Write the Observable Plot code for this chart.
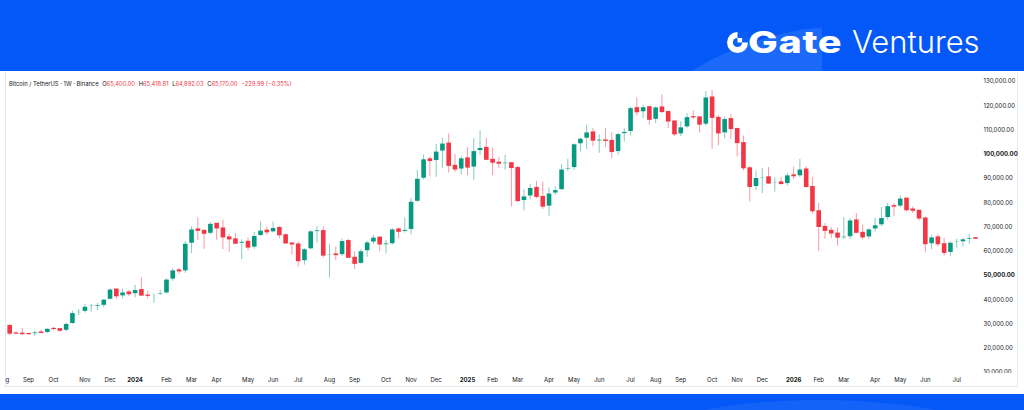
<!DOCTYPE html>
<html><head><meta charset="utf-8">
<script src="https://cdn.jsdelivr.net/npm/d3@7"></script>
<script src="https://cdn.jsdelivr.net/npm/@observablehq/plot@0.6"></script>
<style>
html,body{margin:0;padding:0;}
body{width:1024px;height:410px;overflow:hidden;position:relative;background:#0558F8;font-family:Inter,"Noto Sans",sans-serif;}
#glow{position:absolute;left:0;top:0;width:822px;height:71px;overflow:hidden}
#glow div{position:absolute;left:549px;top:26px;width:602px;height:602px;border-radius:50%;background:#1A69F9}
#glow2{position:absolute;left:0;top:394px;width:1024px;height:16px;overflow:hidden}
#glow2 div{position:absolute;left:610px;top:6px;width:420px;height:120px;border-radius:50%;background:#1463F8}
#panel{position:absolute;left:0;top:71px;width:1024px;height:323px;background:#fff}
#frame{position:absolute;left:5px;top:72px;width:1013px;height:315px;border-left:1px solid #E6E8EE;border-right:1px solid #E6E8EE;border-bottom:1px solid #E6E8EE;box-sizing:border-box}
#chart{position:absolute;left:0;top:72px}
#title{position:absolute;left:9px;top:80px;font-size:5.8px;line-height:8px;color:#131722;white-space:nowrap}
#title .v{color:#F23645}
#title .g{margin-left:2px}
#mask{position:absolute;left:977px;top:373px;width:40px;height:13px;background:#fff}
#maskL{position:absolute;left:0;top:374px;width:5px;height:13px;background:#fff}
#logo{position:absolute;left:0;top:0;color:#fff}
#gate{position:absolute;left:748px;top:22px;font-size:30px;font-weight:800;letter-spacing:0.5px;line-height:40px;transform:scaleX(1.32);transform-origin:0 50%}
#ventures{position:absolute;left:852px;top:22px;font-size:31px;font-weight:300;line-height:40px}
#icon{position:absolute;left:727px;top:32px}
</style>
</head><body>
<div id="glow"><div></div></div>
<div id="glow2"><div></div></div>
<div id="logo">
<svg id="icon" width="21" height="21" viewBox="0 0 21 21">
<circle cx="10.5" cy="10.5" r="10.5" fill="#fff"/>
<rect x="10.5" y="0" width="10.5" height="10.5" fill="#0A5EF8"/>
<circle cx="10.5" cy="10.5" r="4.6" fill="#0A5EF8"/>
<rect x="10.5" y="6" width="4.6" height="4.5" fill="#fff"/>
</svg>
<div id="gate">Gate</div>
<div id="ventures">Ventures</div>
</div>
<div id="panel"></div>
<div id="frame"></div>
<div id="title">Bitcoin / TetherUS · 1W · Binance <span class="g">O</span><span class="v">65,400.00</span> <span class="g">H</span><span class="v">65,418.81</span> <span class="g">L</span><span class="v">64,892.03</span> <span class="g">C</span><span class="v">65,170.00</span> <span class="v g">−229.99 (−0.35%)</span></div>
<div id="chart"></div>
<div id="mask"></div>
<div id="maskL"></div>
<script>
// Weekly BTC/USDT candles (thousands of USD), week of Mon 2023-08-14 … Mon 2026-07-27
const firstWeek = "2023-08-14";
const lastWeek = "2026-07-27";
const open = [
  29.2,26.1,26.0, 25.9,25.8,26.5,26.3, 28.0,27.9,27.2,30.0,34.5, 35.0,37.1,37.4,37.5, 40.0,44.2,41.4,43.0,
  42.3,44.0,41.7,41.6,42.0, 42.6,48.3,52.1,51.7, 63.1,69.0,68.4,67.2, 71.3,69.4,65.7,64.9,63.1, 63.9,61.5,66.3,68.5,
  67.8,69.6,66.6,63.2, 62.8,55.9,60.8,68.2,68.3, 58.2,58.7,58.4,64.2, 57.3,54.8,60.0,63.6,65.6, 62.8,62.9,69.0,68.0,
  68.8,80.4,89.9,97.9, 97.2,101.1,104.4,95.2,93.7,
  98.3,94.5,101.3,102.6, 97.7,96.5,96.1,96.3, 94.3,80.7,82.6,86.1,82.4, 78.4,83.8,85.2,93.7, 94.3,104.1,106.4,109.0,
  105.6,105.7,105.5,100.9,108.3, 109.2,119.0,117.3,119.4, 114.2,119.3,117.4,113.5, 108.2,111.1,115.3,115.2,112.2,
  123.4,115.0,108.6,114.5, 110.4,104.6,94.2,86.5, 90.2,90.5,87.9,88.4,87.7,
  91.3,90.9,93.7,86.5, 76.5,70.0,68.4,67.3, 65.6,65.8,72.7,67.6,65.7, 69.0,70.7,73.7,78.6, 78.4,81.7,77.2,76.7,
  73.5,62.9,65.7,62.9,59.3, 63.5,63.7,64.7,65.40
];
const high = [
  29.6,26.8,28.1, 26.1,27.0,27.5,28.1, 28.6,28.0,30.4,35.3,36.0, 38.0,38.0,38.4,40.2, 44.5,44.3,44.4,43.8,
  45.9,49.0,43.6,42.3,43.9, 48.6,52.8,53.0,64.0, 70.0,73.8,68.9,71.8, 71.3,72.8,66.9,67.2,64.7, 65.5,67.7,72.0,70.0,
  72.0,70.2,67.2,63.4, 63.8,61.0,68.4,70.1,70.0, 62.8,61.8,65.0,64.9, 59.8,60.7,64.1,66.5,66.0, 64.5,69.4,69.5,73.6,
  81.8,93.3,99.6,98.9, 104.1,106.6,108.4,99.9,98.9,
  102.7,106.4,109.6,106.5, 102.5,98.8,99.5,96.5, 95.0,85.3,87.5,88.8,88.5, 86.1,86.5,95.8,97.9, 104.3,106.7,112.0,110.5,
  108.0,110.5,108.9,108.5,110.5, 119.5,123.2,120.2,119.8, 119.5,124.5,117.6,113.8, 113.4,116.7,117.9,115.4,125.9,
  126.3,116.0,115.3,116.3, 110.8,107.5,95.0,93.0, 94.1,94.5,90.2,90.4,92.0,
  94.7,97.9,95.0,90.4, 79.7,71.4,69.8,69.6, 73.9,73.5,75.6,70.7,69.2, 73.7,78.0,79.7,79.7, 82.8,81.9,78.3,76.9,
  74.2,66.6,67.0,65.3,63.9, 64.9,65.3,66.9,65.42
];
const low = [
  25.2,25.8,25.3, 25.4,24.9,26.1,26.0, 27.2,26.5,26.8,29.9,33.4, 34.5,34.8,35.6,36.7, 39.9,40.2,40.5,41.3,
  40.8,41.5,40.3,38.5,41.8, 42.3,47.6,50.5,50.9, 59.0,64.5,60.8,66.8, 64.5,60.7,59.6,62.8,56.6, 60.2,60.8,66.1,66.6,
  67.6,65.1,63.0,58.4, 53.5,54.3,60.6,63.4,57.1, 49.0,56.1,57.8,57.2, 52.5,54.6,57.5,62.7,59.8, 58.9,62.4,65.1,67.5,
  66.8,80.2,89.4,90.8, 90.5,94.2,92.2,92.5,91.5,
  91.2,89.3,99.5,97.6, 91.2,94.1,93.4,78.3, 80.0,76.6,81.2,81.6,77.2, 74.5,83.0,85.1,92.8, 93.4,101.0,102.0,103.1,
  100.4,102.7,98.2,99.6,105.1, 107.5,115.7,114.7,112.0, 112.6,116.8,110.6,107.3, 107.3,110.7,114.4,108.7,111.5,
  102.0,103.5,106.4,106.1, 98.9,93.1,80.3,85.1, 83.8,87.5,84.4,87.4,86.9,
  89.5,90.4,86.0,75.3, 59.8,64.9,65.3,62.1, 64.8,64.9,67.2,64.6,64.9, 67.8,70.2,72.8,74.4, 78.0,76.3,75.6,72.5,
  59.3,60.7,61.8,58.0,57.7, 61.2,61.8,62.9,64.89
];
const close = [
  26.0,26.0,25.8, 25.8,26.5,26.3,28.0, 27.9,27.2,30.0,34.5,35.0, 37.1,37.4,37.5,40.0, 44.2,41.4,43.0,42.3,
  44.0,41.7,41.6,42.0,42.6, 48.3,52.1,51.7,63.1, 69.0,68.4,67.2,71.3, 69.4,65.7,64.9,63.1,63.9, 61.5,66.3,68.5,67.8,
  69.6,66.6,63.2,62.8, 55.9,60.8,68.2,68.3,58.2, 58.7,58.4,64.2,57.3, 54.8,60.0,63.6,65.6,62.8, 62.9,69.0,68.0,68.8,
  80.4,89.9,97.9,97.2, 101.1,104.4,95.2,93.7,98.3,
  94.5,101.3,102.6,97.7, 96.5,96.1,96.3,94.3, 80.7,82.6,86.1,82.4,78.4, 83.8,85.2,93.7,94.3, 104.1,106.4,109.0,105.6,
  105.7,105.5,100.9,108.3,109.2, 119.0,117.3,119.4,114.2, 119.3,117.4,113.5,108.2, 111.1,115.3,115.2,112.2,123.4,
  115.0,108.6,114.5,110.4, 104.6,94.2,86.5,90.2, 90.5,87.9,88.4,87.7,91.3,
  90.9,93.7,86.5,76.5, 70.0,68.4,67.3,65.6, 65.8,72.7,67.6,65.7,69.0, 70.7,73.7,78.6,78.4, 81.7,76.9,76.7,73.5,
  62.9,65.7,62.9,59.3,63.5, 64.0,64.9,65.4,65.17
];
// Price-axis ticks (thousands of USD) and time-axis ticks (first weekly bar of each month)
const priceTicks = [130,120,110,100,90,80,70,60,50,40,30,20,10];
const boldPriceTicks = [100,50];
const monthTickDates = ["2023-08-07","2023-09-04","2023-10-02","2023-11-06","2023-12-04","2024-01-01","2024-02-05","2024-03-04","2024-04-01","2024-05-06","2024-06-03","2024-07-01","2024-08-05","2024-09-02","2024-10-07","2024-11-04","2024-12-02","2025-01-06","2025-02-03","2025-03-03","2025-04-07","2025-05-05","2025-06-02","2025-07-07","2025-08-04","2025-09-01","2025-10-06","2025-11-03","2025-12-01","2026-01-05","2026-02-02","2026-03-02","2026-04-06","2026-05-04","2026-06-01","2026-07-06"];
const monthTickLabels = ["Aug","Sep","Oct","Nov","Dec","2024","Feb","Mar","Apr","May","Jun","Jul","Aug","Sep","Oct","Nov","Dec","2025","Feb","Mar","Apr","May","Jun","Jul","Aug","Sep","Oct","Nov","Dec","2026","Feb","Mar","Apr","May","Jun","Jul"];

const GREEN = "#089981", RED = "#F23645";
const weeks = d3.utcMonday.range(new Date(firstWeek + "T00:00Z"), d3.utcDay.offset(new Date(lastWeek + "T00:00Z"), 1));
const candles = weeks.map((date, i) => ({date, open: open[i], high: high[i], low: low[i], close: close[i]}));
const up = candles.filter(d => d.close >= d.open);
const down = candles.filter(d => d.close < d.open);
const ticks = monthTickDates.map((s, i) => ({date: new Date(s + "T00:00Z"), label: monthTickLabels[i], year: /^\d{4}$/.test(monthTickLabels[i])}));
const fmt = v => d3.format(",.2f")(v * 1000);

const wick = (data, color) => Plot.ruleX(data, {x: "date", y1: "low", y2: "high", stroke: color, strokeOpacity: 0.5, strokeWidth: 1});
const body = (data, color) => Plot.ruleX(data, {x: "date", y1: "open", y2: "close", stroke: color, strokeWidth: 4.6, insetTop: -0.5, insetBottom: -0.5});

const chart = Plot.plot({
  width: 1024, height: 322,
  marginTop: 9, marginBottom: 22, marginLeft: 28, marginRight: 49,
  x: {type: "utc", domain: [new Date("2023-09-04T00:00Z"), new Date(lastWeek + "T00:00Z")], axis: null},
  y: {domain: [10, 130], axis: null},
  style: {fontFamily: "Inter, 'Noto Sans', sans-serif", fontSize: "6px", background: "transparent", overflow: "visible", color: "#131722"},
  marks: [
    wick(up, GREEN), wick(down, RED),
    body(up, GREEN), body(down, RED),
    Plot.text(priceTicks.filter(v => !boldPriceTicks.includes(v)), {y: d => d, frameAnchor: "right", dx: 8, textAnchor: "start", text: fmt, fill: "#131722"}),
    Plot.text(boldPriceTicks, {y: d => d, frameAnchor: "right", dx: 8, textAnchor: "start", text: fmt, fill: "#131722", fontWeight: "bold"}),
    Plot.text(ticks.filter(d => !d.year), {x: "date", frameAnchor: "bottom", dy: 9, text: "label", fill: "#131722"}),
    Plot.text(ticks.filter(d => d.year), {x: "date", frameAnchor: "bottom", dy: 9, text: "label", fill: "#131722", fontWeight: "bold"})
  ]
});
document.getElementById("chart").appendChild(chart);
</script>
</body></html>
